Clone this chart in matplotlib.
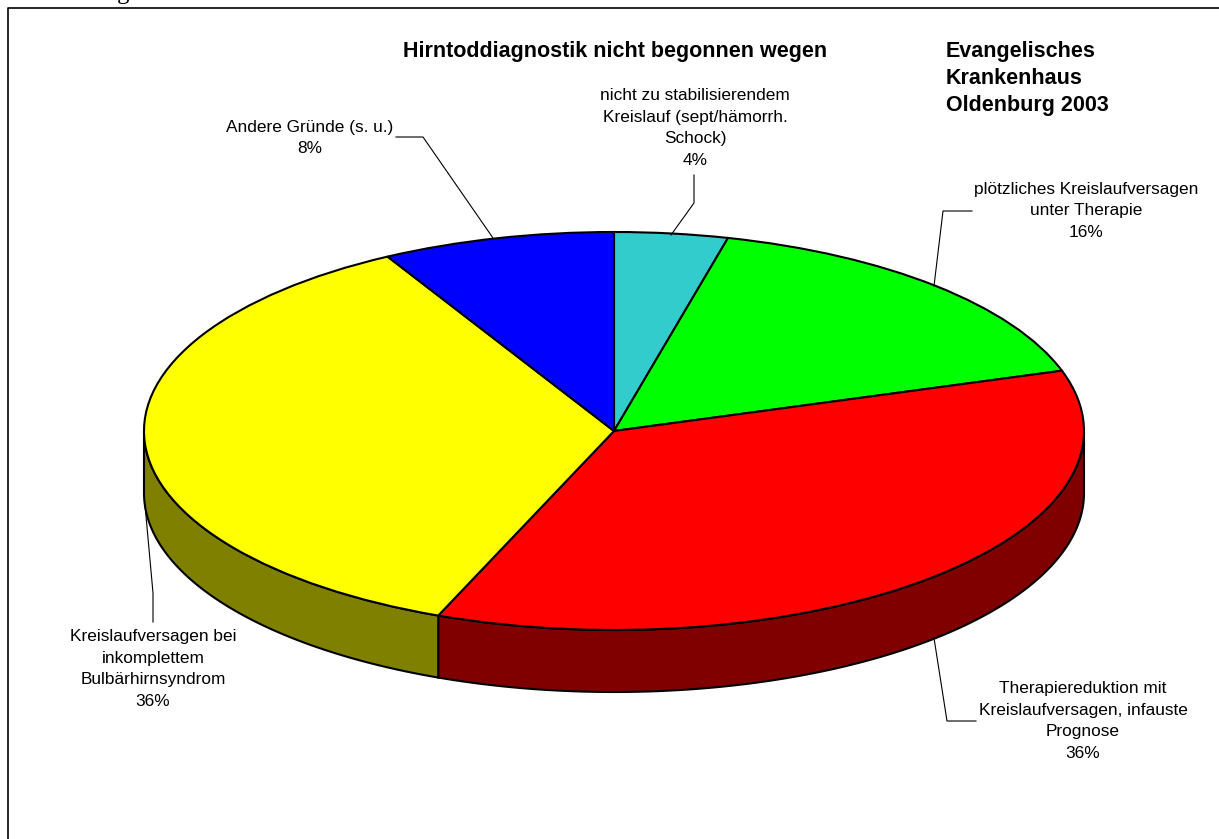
import numpy as np
import matplotlib
matplotlib.use('Agg')
import matplotlib.pyplot as plt
from matplotlib.lines import Line2D

W = 1219
H = 839

werte = [3.9, 16.2, 36.0, 35.9, 8.0]
farben = ['#33CCCC', '#00FF00', '#FF0000', '#FFFF00', '#0000FF']
farben_rand = ['#1A6666', '#008000', '#800000', '#808000', '#000080']
labels = [
    'nicht zu stabilisierendem\nKreislauf (sept/hämorrh.\nSchock)\n4%',
    'plötzliches Kreislaufversagen\nunter Therapie\n16%',
    'Therapiereduktion mit\nKreislaufversagen, infauste\nPrognose\n36%',
    'Kreislaufversagen bei\ninkomplettem\nBulbärhirnsyndrom\n36%',
    'Andere Gründe (s. u.)\n8%',
]
label_pos = [(695, 128), (1086, 211), (1083, 721), (153, 669), (310, 138)]
leader = [
    [(694, 175), (694, 203), (671, 235)],
    [(972, 211), (943, 211), (934, 286)],
    [(976, 721), (947, 721), (934, 638)],
    [(153, 622), (153, 593), (145, 505)],
    [(396, 137), (423, 137), (493, 238)],
]
titel = 'Hirntoddiagnostik nicht begonnen wegen'
ort = ['Evangelisches', 'Krankenhaus', 'Oldenburg 2003']
ort_y = [51, 78, 105]

plt.rcParams['font.family'] = ['Liberation Sans', 'DejaVu Sans']

fig = plt.figure(figsize=(W / 100, H / 100), dpi=100)

# Pixel -> Figurkoordinaten
def px(x, y):
    return x / W, 1 - y / H

# Ellipse der Torte in Pixeln
cx, cy, a, b, tiefe = 614, 431, 470, 199, 62
ax = fig.add_axes([(cx - a) / W, 1 - (cy + b) / H, 2 * a / W, 2 * b / H])

# Seitenwand: nur der vordere Teil jedes Stuecks
grenzen = 90 - np.cumsum([0] + werte) * 3.6
for i in range(len(werte)):
    t1 = grenzen[i]
    t2 = grenzen[i + 1]
    t = np.radians(np.linspace(t1, t2, 300))
    t = t[np.sin(t) <= 0]
    if len(t) == 0:
        continue
    xs = np.concatenate([np.cos(t), np.cos(t[::-1])])
    ys = np.concatenate([np.sin(t), np.sin(t[::-1]) - tiefe / b])
    ax.fill(xs, ys, facecolor=farben_rand[i], edgecolor='black', lw=1.5, clip_on=False)

ax.pie(werte, colors=farben, startangle=90, counterclock=False, radius=1, normalize=True,
       wedgeprops={'edgecolor': 'black', 'linewidth': 1.5, 'clip_on': False})
ax.set_aspect('auto')
ax.set_xlim(-1, 1)
ax.set_ylim(-1, 1)

for pts in leader:
    xs = [px(*p)[0] for p in pts]
    ys = [px(*p)[1] for p in pts]
    fig.add_artist(Line2D(xs, ys, color='black', lw=0.8))

for txt, pos in zip(labels, label_pos):
    x, y = px(*pos)
    fig.text(x, y, txt, ha='center', va='center', fontsize=12.4, linespacing=1.55, color='black')

x, y = px(403, 52)
fig.text(x, y, titel, ha='left', va='center', fontsize=15.5, fontweight='bold')
for s, yy in zip(ort, ort_y):
    x, y = px(946, yy)
    fig.text(x, y, s, ha='left', va='center', fontsize=15.5, fontweight='bold')

# abgeschnittener Text ueber dem Rahmen
x, y = px(117, -1)
fig.text(x, y, 'g', ha='left', va='baseline', fontsize=18, family='Liberation Serif')

# Rahmen (unten und rechts offen)
x0, y0 = px(7.5, 7.5)
x1, y1 = px(1219, 839)
fig.add_artist(Line2D([x0, x0, x1], [y1, y0, y0], color='black', lw=1.2))

fig.savefig('out.png', dpi=100)
